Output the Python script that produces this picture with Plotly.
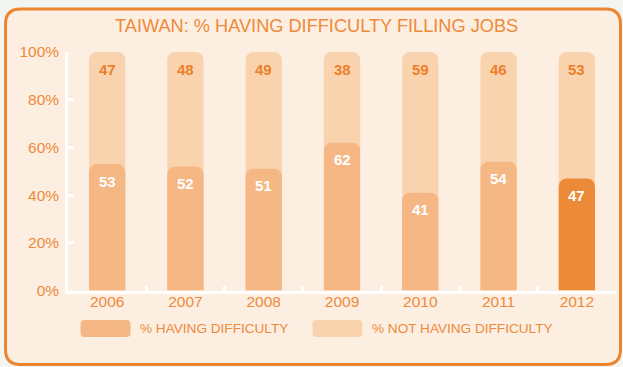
import plotly.graph_objects as go

# Survey results: Taiwan, share of employers having difficulty filling jobs
years = ["2006", "2007", "2008", "2009", "2010", "2011", "2012"]
having_difficulty = [53, 52, 51, 62, 41, 54, 47]
not_having_difficulty = [47, 48, 49, 38, 59, 46, 53]
y_ticks = [0, 20, 40, 60, 80, 100]
y_tick_labels = ["0%", "20%", "40%", "60%", "80%", "100%"]
legend_labels = ["% HAVING DIFFICULTY", "% NOT HAVING DIFFICULTY"]
title_text = "TAIWAN: % HAVING DIFFICULTY FILLING JOBS"

W, H = 623, 367
ORANGE = "#ec8530"
TEXT_ORANGE = "#ee8a3a"
PANEL_BG = "#fdeee2"
PAGE_BG = "#f3f5f3"
DARK = "#f5b784"
LIGHT = "#f9d3ae"
HIGHLIGHT = "#ec8a37"

dark_colors = [DARK] * (len(years) - 1) + [HIGHLIGHT]
totals = [h + n for h, n in zip(having_difficulty, not_having_difficulty)]
BAR_W = 0.464
FONT = "Liberation Sans, Arial, Helvetica, sans-serif"


def px(x):
    return x / W


def py(y):
    return 1 - y / H


def rounded_rect(x0, y0, x1, y1, r):
    """SVG path (paper coords) for a rectangle with rounded corners, given in pixels."""
    pts = [
        f"M {px(x0 + r)},{py(y0)}",
        f"L {px(x1 - r)},{py(y0)}",
        f"Q {px(x1)},{py(y0)} {px(x1)},{py(y0 + r)}",
        f"L {px(x1)},{py(y1 - r)}",
        f"Q {px(x1)},{py(y1)} {px(x1 - r)},{py(y1)}",
        f"L {px(x0 + r)},{py(y1)}",
        f"Q {px(x0)},{py(y1)} {px(x0)},{py(y1 - r)}",
        f"L {px(x0)},{py(y0 + r)}",
        f"Q {px(x0)},{py(y0)} {px(x0 + r)},{py(y0)}",
        "Z",
    ]
    return " ".join(pts)


fig = go.Figure()

# Full-height light column; the part above the dark bar is the "not having" share
fig.add_trace(go.Bar(
    x=years, y=totals, width=BAR_W,
    marker=dict(color=LIGHT, cornerradius=8, line_width=0),
    name=legend_labels[1], hoverinfo="skip",
    xaxis="x", yaxis="y",
))
# "Having difficulty" bars on an overlaid subplot so each keeps its own rounded top
fig.add_trace(go.Bar(
    x=years, y=having_difficulty, width=BAR_W,
    marker=dict(color=dark_colors, cornerradius=8, line_width=0),
    name=legend_labels[0],
    xaxis="x2", yaxis="y2",
))

# Value labels, placed just under the top of each segment (x = category index)
annotations = []
for i, (h, n) in enumerate(zip(having_difficulty, not_having_difficulty)):
    annotations.append(dict(
        x=i, y=h, xref="x", yref="y", text=str(h), showarrow=False,
        yshift=-17, font=dict(family=FONT, size=15, color="white", weight="bold"),
    ))
    annotations.append(dict(
        x=i, y=h + n, xref="x", yref="y", text=str(n), showarrow=False,
        yshift=-17, font=dict(family=FONT, size=15, color="#ec7f2a", weight="bold"),
    ))

# Title
annotations.append(dict(
    x=px(316.5), y=py(26), xref="paper", yref="paper", text=title_text,
    showarrow=False, xanchor="center", yanchor="middle",
    font=dict(family=FONT, size=18.2, color=TEXT_ORANGE),
))

# Legend: rounded swatches with labels
legend_items = [(80.5, DARK, legend_labels[0]), (312.5, LIGHT, legend_labels[1])]
shapes = [dict(
    type="path", xref="paper", yref="paper", layer="below",
    path=rounded_rect(5.5, 9, 620.5, 364.5, 15),
    fillcolor=PANEL_BG, line=dict(color=ORANGE, width=3),
)]
for x0, col, label in legend_items:
    shapes.append(dict(
        type="path", xref="paper", yref="paper", layer="above",
        path=rounded_rect(x0, 320, x0 + 50, 337, 4),
        fillcolor=col, line=dict(width=0),
    ))
    annotations.append(dict(
        x=px(x0 + 57), y=py(328.5), xref="paper", yref="paper", text=label,
        showarrow=False, xanchor="left", yanchor="middle",
        font=dict(family=FONT, size=13.6, color=TEXT_ORANGE),
    ))

x_domain = [px(68), px(616)]
y_domain = [py(290.5), py(52)]
x_range = [-0.5, len(years) - 0.5]

fig.update_layout(
    width=W, height=H,
    margin=dict(l=0, r=0, t=0, b=0, autoexpand=False),
    paper_bgcolor=PAGE_BG, plot_bgcolor="rgba(0,0,0,0)",
    barmode="overlay", showlegend=False,
    font=dict(family=FONT, color=TEXT_ORANGE),
    shapes=shapes, annotations=annotations,
    xaxis=dict(
        domain=x_domain, type="category", range=x_range,
        showline=True, linecolor="white", linewidth=2.5,
        ticks="inside", tickson="boundaries", ticklen=5, tickwidth=2.5,
        tickcolor="white", showgrid=False, zeroline=False,
        ticklabelstandoff=-5,
        tickfont=dict(family=FONT, size=15.5, color=TEXT_ORANGE),
    ),
    yaxis=dict(
        domain=y_domain, range=[0, 100],
        tickvals=y_ticks, ticktext=y_tick_labels,
        showline=True, linecolor="white", linewidth=2.5,
        ticks="inside", ticklen=6, tickwidth=2.5, tickcolor="white",
        showgrid=False, zeroline=False, ticklabelstandoff=3,
        tickfont=dict(family=FONT, size=15.5, color=TEXT_ORANGE),
    ),
    xaxis2=dict(
        domain=x_domain, type="category", range=x_range, overlaying="x",
        visible=False,
    ),
    yaxis2=dict(
        domain=y_domain, range=[0, 100], overlaying="y", anchor="x2",
        visible=False,
    ),
)

fig.write_html("out.html")
